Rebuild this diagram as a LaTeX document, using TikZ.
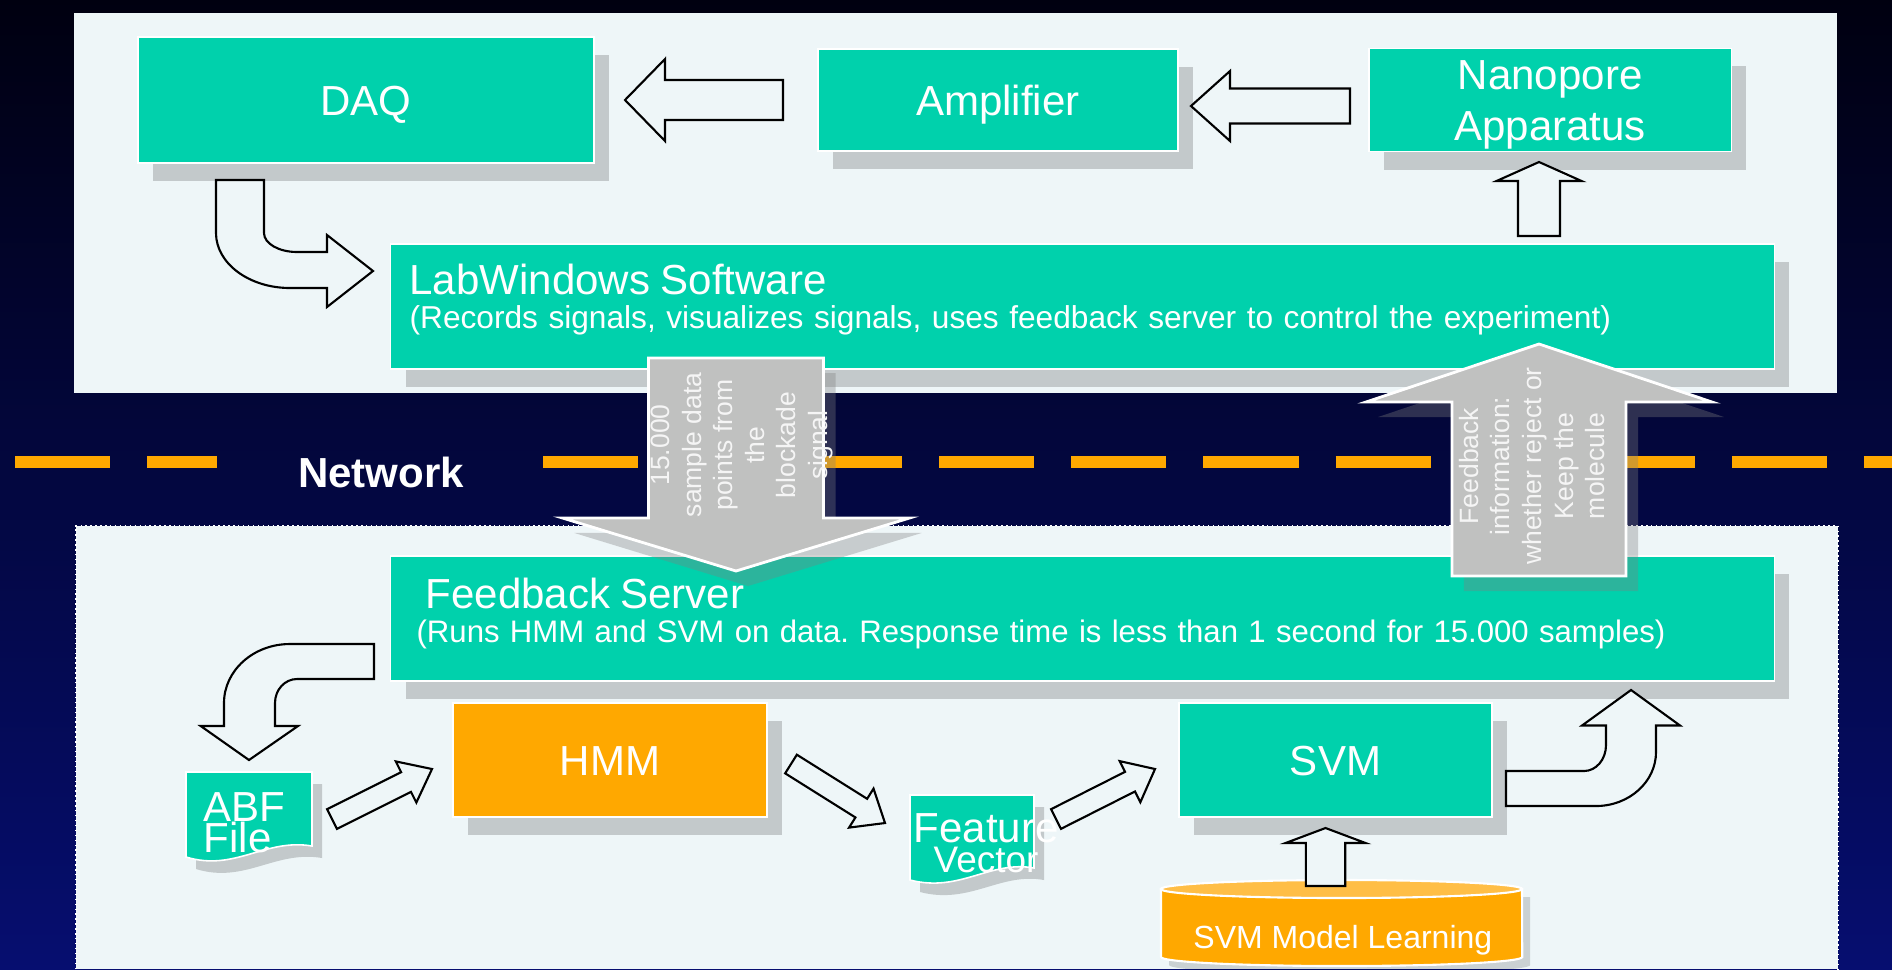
\documentclass[tikz,border=0pt]{standalone}
\usepackage{fontspec}
\setmainfont{Liberation Sans}
\frenchspacing
\usetikzlibrary{calc, positioning, shadows}
\definecolor{bgtop}{RGB}{0,0,16}
\definecolor{bgmid}{RGB}{0,2,72}
\definecolor{bgbot}{RGB}{6,14,112}
\definecolor{panel}{RGB}{238,246,248}
\definecolor{Mteal}{RGB}{0,209,172}
\definecolor{Morange}{RGB}{255,168,0}
\definecolor{Mlorange}{RGB}{255,190,70}
\definecolor{Mgray}{RGB}{192,193,192}

% block arrow: [style]{tail}{tip}{shaft half width}{head half width}{head length}
\newcommand\blockarrow[6][]{%
  \coordinate (ba-h) at ($(#3)!#6!(#2)$);
  \draw[#1] ($(#2)!#4!90:(#3)$) -- ($(ba-h)!#4!-90:(#2)$) -- ($(ba-h)!#5!-90:(#2)$)
    -- (#3) -- ($(ba-h)!#5!90:(#2)$) -- ($(ba-h)!#4!90:(#2)$) -- ($(#2)!#4!-90:(#3)$) -- cycle;
}

\begin{document}
\begin{tikzpicture}[
  x=0.01cm, y=-0.01cm,
  box/.style={
    rectangle, draw=white, line width=0.45pt, fill=Mteal, text=white,
    inner sep=0pt, font=\fontsize{11.95}{14.5}\selectfont,
    drop shadow={shadow xshift=0.15cm, shadow yshift=-0.18cm, fill=black, opacity=0.18}
  },
  oneline/.style={text height=0.3cm, text depth=0pt},
  wide/.style={
    box, align=left, minimum height=1.25cm
  },
  doc/.style={
    fill=Mteal, draw=white, line width=0.45pt,
    drop shadow={shadow xshift=0.1cm, shadow yshift=-0.12cm, fill=black, opacity=0.18}
  },
  doctext/.style={text=white, inner sep=0pt},
  flow/.style={draw=black, line width=0.6pt, fill=panel},
  bigflow/.style={
    draw=white, line width=0.8pt, fill=Mgray,
    drop shadow={shadow xshift=0.12cm, shadow yshift=-0.15cm, fill=gray, opacity=0.35}
  },
  note/.style={text=white!96!black, align=center, rotate=90, inner sep=0pt,
    font=\fontsize{7.54}{8.96}\selectfont},
  netline/.style={Morange, line width=3.4pt, dash pattern=on 27.03pt off 10.53pt},
  netlabel/.style={text=white, font=\fontsize{11.95}{14}\selectfont\bfseries}
]
\useasboundingbox (0,0) rectangle (1892,969);

%% ── Background and the two panels ─────────────────────────────────────────
\shade[top color=bgtop, middle color=bgmid, bottom color=bgbot] (0,0) rectangle (1892,969);
\fill[panel] (74,13) rectangle (1837,393);
\fill[panel] (76,525.5) rectangle (1838,969);
\draw[white, densely dotted, line width=0.4pt] (76,969) -- (76,525.5) -- (1838,525.5) -- (1838,969);

%% ── Network line ──────────────────────────────────────────────────────────
\node[netlabel] (net) at (381,472) {Network};
\draw[netline] (15,461.7) -- (217,461.7);
\draw[netline] (543,461.7) -- (1892,461.7);

%% ── Acquisition side (top) ────────────────────────────────────────────────
\node[box, oneline, minimum width=4.56cm, minimum height=1.26cm] (daq) at (366,100) {DAQ};
\node[box, oneline, minimum width=3.60cm, minimum height=1.02cm, right=2.22cm of daq] (amp) {Amplifier};
\node[box, align=center, minimum width=3.625cm, minimum height=1.03cm, right=1.89cm of amp] (nano)
  {\rule{0pt}{0.38cm}Nanopore\\Apparatus};
\node[wide, text width=13.45cm, inner xsep=0.19cm, font=\fontsize{9.0}{9.4}\selectfont] (lab) at (1082.5,306.5)
  {{\fontsize{11.95}{9.4}\selectfont LabWindows Software}\\
   (Records signals, visualizes signals, uses feedback server to control the experiment)\rule[-0.205cm]{0pt}{0.205cm}};

%% ── Server side (bottom) ──────────────────────────────────────────────────
\node[wide, text width=13.31cm, inner xsep=0.26cm, font=\fontsize{8.85}{9.4}\selectfont, below=1.85cm of lab] (fb)
  {\hspace{0.09cm}{\fontsize{11.95}{9.4}\selectfont Feedback Server}\\
   (Runs HMM and SVM on data. Response time is less than 1 second for 15.000 samples)\rule[-0.16cm]{0pt}{0.16cm}};
\node[box, oneline, fill=Morange, minimum width=3.14cm, minimum height=1.14cm] (hmm) at (610,760) {HMM};
\node[box, oneline, minimum width=3.13cm, minimum height=1.14cm, right=4.10cm of hmm] (svm) {SVM};

% documents with a wavy lower edge
\path[doc] (186,772) -- (312,772) -- (312,846) .. controls (265,838) and (235,872) .. (186,857) -- cycle;
\path[doc] (910,795) -- (1034,795) -- (1034,868) .. controls (990,860) and (960,893) .. (910,880) -- cycle;

% model store
\path[fill=Morange, draw=white, line width=0.6pt,
  drop shadow={shadow xshift=0.08cm, shadow yshift=-0.08cm, fill=black, opacity=0.15}]
  (1161,889) -- (1161,957) arc[start angle=180, end angle=360, x radius=1.805cm, y radius=0.09cm]
  -- (1522,889) -- cycle;
\draw[white, fill=Mlorange, line width=0.6pt] (1341.5,889) ellipse [x radius=1.805cm, y radius=0.09cm];
\node[anchor=base west, text=white, font=\fontsize{9.1}{11}\selectfont] (svmml) at (1181,948) {SVM Model Learning};

%% ── Block arrows ──────────────────────────────────────────────────────────
\coordinate (amp-out)  at (783,100);  \coordinate (daq-in)  at (625,100);
\coordinate (nano-out) at (1350,106); \coordinate (amp-in)  at (1191,106);
\coordinate (lab-up)   at (1539,236); \coordinate (nano-in) at (1539,162);
\coordinate (abf-out)  at (332,819);  \coordinate (hmm-in)  at (432,769);
\coordinate (hmm-out)  at (791,764);  \coordinate (feat-in) at (885,823);
\coordinate (feat-out) at (1056,819); \coordinate (svm-in)  at (1155,769);
\coordinate (db-out)   at (1325.5,886); \coordinate (svm-low) at (1325.5,828);

\blockarrow[flow]{amp-out}{daq-in}{0.2cm}{0.41cm}{0.4cm}
\blockarrow[flow]{nano-out}{amp-in}{0.175cm}{0.35cm}{0.39cm}
\blockarrow[flow]{lab-up}{nano-in}{0.21cm}{0.425cm}{0.19cm}
\blockarrow[flow]{abf-out}{hmm-in}{0.11cm}{0.23cm}{0.29cm}
\blockarrow[flow]{hmm-out}{feat-in}{0.11cm}{0.23cm}{0.28cm}
\blockarrow[flow]{feat-out}{svm-in}{0.11cm}{0.23cm}{0.28cm}
\blockarrow[flow]{db-out}{svm-low}{0.197cm}{0.40cm}{0.15cm}

% bent arrows
\draw[flow] (216,180) -- (216,233) .. controls (216,263.4) and (249.1,288) .. (290,288) -- (327,288)
  -- (327,307) -- (373,271) -- (327,235) -- (327,252) -- (297,252)
  .. controls (278.8,252) and (264,243.5) .. (264,233) -- (264,180) -- cycle;
\draw[flow] (374,644) -- (290,644) .. controls (253.5,644) and (224,670.4) .. (224,703) -- (224,726)
  -- (200.7,726) -- (249,760) -- (298,726) -- (275,726) -- (275,703)
  .. controls (275,689.7) and (284.8,679) .. (297,679) -- (374,679) -- cycle;
\draw[flow] (1506,771) -- (1584,771) .. controls (1596.2,771) and (1606,759.4) .. (1606,745) -- (1606,725.5)
  -- (1582,725.5) -- (1631,690) -- (1680,725.5) -- (1656,725.5) -- (1656,752)
  .. controls (1656,781.8) and (1629.1,806) .. (1596,806) -- (1506,806) -- cycle;

%% ── Traffic over the network ──────────────────────────────────────────────
\coordinate (lab-down) at (736,358);  \coordinate (fb-in)  at (736,571);
\coordinate (fb-up)    at (1539,576); \coordinate (lab-in) at (1539,344);
\blockarrow[bigflow]{lab-down}{fb-in}{0.875cm}{1.735cm}{0.53cm}
\blockarrow[bigflow]{fb-up}{lab-in}{0.87cm}{1.73cm}{0.58cm}
\node[note] (samples) at (742,445) {15.000\\sample data\\points from\\the\\blockade\\signal};
\node[note] (verdict) at (1532,466) {Feedback\\information:\\whether reject or\\Keep the\\molecule};

%% ── Document labels ───────────────────────────────────────────────────────
\node[doctext, anchor=north west, align=left, font=\fontsize{11.95}{8.82}\selectfont] (abf) at (203,792) {ABF\\File};
\node[doctext, anchor=north, align=center, font=\fontsize{11.95}{8.54}\selectfont] (feat) at (986,813)
  {Feature\\{\fontsize{10.5}{8.54}\selectfont Vector}};

\end{tikzpicture}
\end{document}
